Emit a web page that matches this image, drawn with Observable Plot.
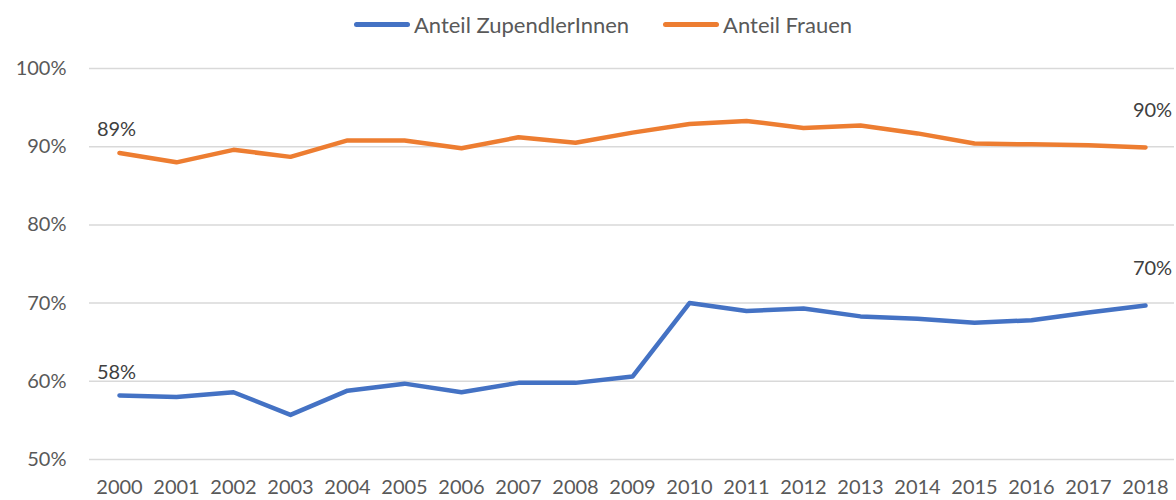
<!DOCTYPE html>
<html>
<head>
<meta charset="utf-8">
<script src="https://cdn.jsdelivr.net/npm/d3@7"></script>
<script src="https://cdn.jsdelivr.net/npm/@observablehq/plot@0.6"></script>
<style>
  html, body { margin: 0; padding: 0; background: #fff; }
  body { width: 1176px; height: 500px; overflow: hidden; font-family: Lato, "Open Sans", sans-serif; }
  #legend { height: 48px; display: flex; justify-content: center; align-items: center; gap: 34px; color: #595959; font-size: 22px; padding-left: 30px; box-sizing: border-box; width: 1176px; }
  .item { display: flex; align-items: center; gap: 4px; }
  .sw { width: 56px; height: 5px; border-radius: 3px; }
</style>
</head>
<body>
<div id="legend"></div>
<div id="chart"></div>
<script>
const years = [2000,2001,2002,2003,2004,2005,2006,2007,2008,2009,2010,2011,2012,2013,2014,2015,2016,2017,2018];
const anteilZupendler = [58.2,58.0,58.6,55.7,58.8,59.7,58.6,59.8,59.8,60.6,70.0,69.0,69.3,68.3,68.0,67.5,67.8,68.8,69.7];
const anteilFrauen = [89.2,88.0,89.6,88.7,90.8,90.8,89.8,91.2,90.5,91.8,92.9,93.3,92.4,92.7,91.7,90.4,90.3,90.2,89.9];
const seriesNames = ["Anteil ZupendlerInnen", "Anteil Frauen"];
const seriesColors = ["#4472C4", "#ED7D31"];
const yTicks = [50,60,70,80,90,100];

const rows = [];
years.forEach((y, i) => {
  rows.push({year: y, value: anteilZupendler[i] / 100, series: seriesNames[0]});
  rows.push({year: y, value: anteilFrauen[i] / 100, series: seriesNames[1]});
});
const firstRows = rows.filter(d => d.year === years[0]);
const lastRows = rows.filter(d => d.year === years[years.length - 1]);

const legend = document.getElementById("legend");
seriesNames.forEach((n, i) => {
  const it = document.createElement("div");
  it.className = "item";
  it.innerHTML = `<span class="sw" style="background:${seriesColors[i]}"></span><span>${n}</span>`;
  legend.appendChild(it);
});

const fs = "20px";
const chart = Plot.plot({
  width: 1176,
  height: 452,
  marginLeft: 89,
  marginRight: 2,
  marginTop: 20,
  marginBottom: 41,
  style: {fontFamily: "Lato, 'Open Sans', sans-serif", fontSize: fs, color: "#595959", background: "#fff", overflow: "visible"},
  x: {type: "point", domain: years, padding: 0.5, label: null},
  y: {domain: [0.5, 1.0], label: null},
  color: {domain: seriesNames, range: seriesColors},
  marks: [
    Plot.ruleY(yTicks.map(t => t / 100), {stroke: "#d9d9d9", strokeWidth: 1.5}),
    Plot.axisY({ticks: yTicks.map(t => t / 100), tickFormat: d => Math.round(d * 100) + "%", tickSize: 0, tickPadding: 23, fill: "#595959", fontSize: fs}),
    Plot.axisX({tickSize: 0, tickPadding: 20, tickFormat: d => String(d), fill: "#595959", fontSize: fs}),
    Plot.line(rows, {x: "year", y: "value", z: "series", stroke: "series", strokeWidth: 4.5, strokeLinecap: "round", strokeLinejoin: "round"}),
    Plot.text(firstRows, {x: "year", y: "value", text: d => Math.round(d.value * 100) + "%", dy: -23, dx: -3, fill: "#404040", fontSize: fs}),
    Plot.text(lastRows, {x: "year", y: "value", text: d => Math.round(d.value * 100) + "%", dy: -37, dx: 7, fill: "#404040", fontSize: fs})
  ]
});
document.getElementById("chart").appendChild(chart);
</script>
</body>
</html>
